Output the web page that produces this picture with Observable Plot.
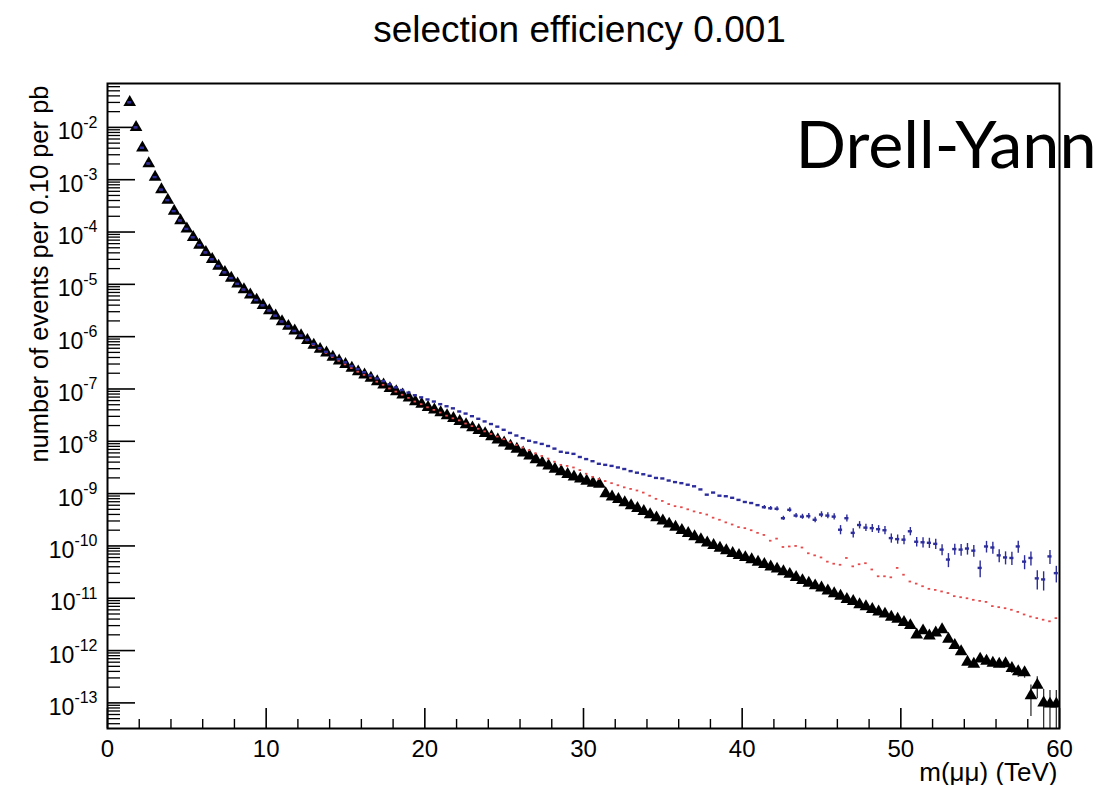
<!DOCTYPE html>
<html>
<head>
<meta charset="utf-8">
<script src="https://cdn.jsdelivr.net/npm/d3@7"></script>
<script src="https://cdn.jsdelivr.net/npm/@observablehq/plot@0.6"></script>
<style>
  html, body { margin: 0; padding: 0; background: #fff; }
  #chart { width: 1116px; height: 785px; }
  #chart svg { overflow: visible; }
</style>
</head>
<body>
<div id="chart"></div>
<script>
// Dimuon invariant-mass histogram, 0.4 TeV bins (bin centres in TeV)
const massBins = [
  1.4, 1.8, 2.2, 2.6, 3.0, 3.4, 3.8, 4.2, 4.6, 5.0,
  5.4, 5.8, 6.2, 6.6, 7.0, 7.4, 7.8, 8.2, 8.6, 9.0,
  9.4, 9.8, 10.2, 10.6, 11.0, 11.4, 11.8, 12.2, 12.6, 13.0,
  13.4, 13.8, 14.2, 14.6, 15.0, 15.4, 15.8, 16.2, 16.6, 17.0,
  17.4, 17.8, 18.2, 18.6, 19.0, 19.4, 19.8, 20.2, 20.6, 21.0,
  21.4, 21.8, 22.2, 22.6, 23.0, 23.4, 23.8, 24.2, 24.6, 25.0,
  25.4, 25.8, 26.2, 26.6, 27.0, 27.4, 27.8, 28.2, 28.6, 29.0,
  29.4, 29.8, 30.2, 30.6, 31.0, 31.4, 31.8, 32.2, 32.6, 33.0,
  33.4, 33.8, 34.2, 34.6, 35.0, 35.4, 35.8, 36.2, 36.6, 37.0,
  37.4, 37.8, 38.2, 38.6, 39.0, 39.4, 39.8, 40.2, 40.6, 41.0,
  41.4, 41.8, 42.2, 42.6, 43.0, 43.4, 43.8, 44.2, 44.6, 45.0,
  45.4, 45.8, 46.2, 46.6, 47.0, 47.4, 47.8, 48.2, 48.6, 49.0,
  49.4, 49.8, 50.2, 50.6, 51.0, 51.4, 51.8, 52.2, 52.6, 53.0,
  53.4, 53.8, 54.2, 54.6, 55.0, 55.4, 55.8, 56.2, 56.6, 57.0,
  57.4, 57.8, 58.2, 58.6, 59.0, 59.4, 59.8
];

// log10(events per bin per pb), generator level (black triangles)
const generatedLog10 = [
  -1.52, -2.00, -2.39, -2.69, -2.95, -3.19, -3.39, -3.60, -3.78, -3.94,
  -4.10, -4.25, -4.39, -4.52, -4.65, -4.77, -4.88, -4.99, -5.10, -5.20,
  -5.30, -5.40, -5.50, -5.60, -5.71, -5.80, -5.89, -5.98, -6.07, -6.16,
  -6.24, -6.31, -6.39, -6.46, -6.53, -6.60, -6.67, -6.73, -6.79, -6.86,
  -6.92, -6.99, -7.05, -7.11, -7.17, -7.24, -7.29, -7.35, -7.40, -7.45,
  -7.51, -7.56, -7.62, -7.68, -7.74, -7.79, -7.85, -7.91, -7.97, -8.03,
  -8.09, -8.15, -8.22, -8.28, -8.35, -8.41, -8.47, -8.53, -8.58, -8.63,
  -8.68, -8.72, -8.76, -8.80, -8.82, -9.00, -9.06, -9.11, -9.17, -9.23,
  -9.28, -9.34, -9.40, -9.46, -9.52, -9.58, -9.64, -9.70, -9.76, -9.82,
  -9.88, -9.94, -9.99, -10.04, -10.09, -10.14, -10.18, -10.22, -10.26, -10.31,
  -10.35, -10.40, -10.44, -10.49, -10.54, -10.60, -10.66, -10.71, -10.76, -10.80,
  -10.86, -10.91, -10.96, -11.02, -11.06, -11.12, -11.16, -11.21, -11.26, -11.30,
  -11.36, -11.40, -11.46, -11.52, -11.70, -11.62, -11.72, -11.66, -11.60, -11.78,
  -11.90, -12.02, -12.22, -12.26, -12.16, -12.20, -12.24, -12.26, -12.25, -12.34,
  -12.40, -12.42, -12.86, -12.66, -13.00, -13.02, -13.02
];

// log10 after momentum smearing (red points)
const smearedLog10 = [
  -1.52, -2.00, -2.39, -2.69, -2.95, -3.19, -3.39, -3.60, -3.78, -3.94,
  -4.10, -4.25, -4.39, -4.52, -4.65, -4.77, -4.88, -4.99, -5.10, -5.20,
  -5.30, -5.40, -5.50, -5.60, -5.71, -5.80, -5.89, -5.98, -6.07, -6.16,
  -6.24, -6.31, -6.39, -6.46, -6.53, -6.60, -6.67, -6.73, -6.79, -6.86,
  -6.92, -6.99, -7.05, -7.11, -7.17, -7.24, -7.29, -7.35, -7.40, -7.45,
  -7.51, -7.56, -7.60, -7.66, -7.71, -7.76, -7.81, -7.86, -7.91, -7.96,
  -8.02, -8.07, -8.12, -8.17, -8.23, -8.28, -8.33, -8.39, -8.45, -8.47,
  -8.50, -8.55, -8.62, -8.68, -8.72, -8.76, -8.80, -8.84, -8.88, -8.91,
  -8.94, -8.98, -9.04, -9.10, -9.14, -9.20, -9.24, -9.26, -9.30, -9.34,
  -9.37, -9.40, -9.46, -9.50, -9.55, -9.59, -9.64, -9.66, -9.70, -9.75,
  -9.79, -9.90, -9.86, -10.02, -10.01, -10.00, -10.03, -10.14, -10.18, -10.22,
  -10.30, -10.34, -10.36, -10.23, -10.39, -10.35, -10.33, -10.45, -10.58, -10.58,
  -10.60, -10.42, -10.55, -10.68, -10.72, -10.77, -10.82, -10.84, -10.87, -10.90,
  -10.96, -10.98, -11.00, -11.03, -11.05, -11.07, -11.15, -11.17, -11.19, -11.22,
  -11.26, -11.31, -11.35, -11.38, -11.41, -11.44, -11.38
];

// log10 after selection (blue points)
const selectedLog10 = [
  -1.52, -2.00, -2.39, -2.69, -2.95, -3.19, -3.39, -3.60, -3.78, -3.94,
  -4.10, -4.25, -4.39, -4.52, -4.65, -4.77, -4.88, -4.99, -5.10, -5.20,
  -5.30, -5.40, -5.50, -5.60, -5.71, -5.80, -5.89, -5.98, -6.06, -6.14,
  -6.22, -6.29, -6.36, -6.43, -6.49, -6.56, -6.62, -6.68, -6.74, -6.80,
  -6.85, -6.91, -6.97, -7.02, -7.07, -7.12, -7.16, -7.20, -7.24, -7.29,
  -7.33, -7.37, -7.43, -7.47, -7.52, -7.57, -7.62, -7.67, -7.72, -7.78,
  -7.84, -7.89, -7.94, -7.99, -8.02, -8.05, -8.09, -8.14, -8.20, -8.22,
  -8.24, -8.30, -8.34, -8.38, -8.43, -8.45, -8.47, -8.50, -8.53, -8.57,
  -8.60, -8.63, -8.66, -8.70, -8.71, -8.75, -8.78, -8.80, -8.83, -8.86,
  -8.92, -9.02, -8.98, -9.04, -9.05, -9.08, -9.12, -9.16, -9.18, -9.22,
  -9.26, -9.28, -9.29, -9.47, -9.31, -9.42, -9.44, -9.43, -9.50, -9.40,
  -9.42, -9.44, -9.69, -9.47, -9.75, -9.60, -9.65, -9.66, -9.68, -9.70,
  -9.85, -9.87, -9.88, -9.72, -9.92, -9.93, -9.94, -9.96, -10.07, -10.26,
  -10.06, -10.07, -10.05, -10.09, -10.42, -10.01, -10.03, -10.18, -10.22, -10.23,
  -10.01, -10.30, -10.23, -10.62, -10.64, -10.20, -10.52
];

// relative statistical error of the selected sample (0 = hidden by the marker)
const selectedRelErr = [
  0, 0, 0, 0, 0, 0, 0, 0, 0, 0,
  0, 0, 0, 0, 0, 0, 0, 0, 0, 0,
  0, 0, 0, 0, 0, 0, 0, 0, 0, 0,
  0, 0, 0, 0, 0, 0, 0, 0, 0, 0,
  0, 0, 0, 0, 0, 0, 0, 0, 0, 0,
  0, 0, 0, 0, 0, 0, 0, 0, 0, 0,
  0, 0, 0, 0, 0, 0, 0, 0, 0, 0,
  0, 0, 0, 0, 0, 0, 0, 0, 0, 0,
  0, 0, 0, 0, 0, 0, 0, 0, 0, 0,
  0, 0, 0, 0, 0, 0, 0, 0, 0, 0,
  0.08, 0.08, 0.09, 0.09, 0.10, 0.10, 0.11, 0.12, 0.12, 0.13,
  0.13, 0.14, 0.20, 0.15, 0.20, 0.16, 0.16, 0.17, 0.17, 0.18,
  0.20, 0.20, 0.20, 0.18, 0.21, 0.22, 0.22, 0.22, 0.24, 0.30,
  0.24, 0.25, 0.25, 0.25, 0.35, 0.25, 0.26, 0.28, 0.28, 0.28,
  0.26, 0.30, 0.30, 0.40, 0.40, 0.30, 0.35
];

// generator-level bins with visible error bars, and their relative errors
const generatedErrBins = [57.0, 57.4, 57.8, 58.2, 58.6, 59.0, 59.4, 59.8];
const generatedRelErr = [0.20, 0.22, 0.22, 0.60, 0.45, 0.80, 0.80, 0.80];

// axes
const xMajorTicks = [0, 10, 20, 30, 40, 50, 60];
const xMinorTicks = [2, 4, 6, 8, 12, 14, 16, 18, 22, 24, 26, 28, 32, 34, 36, 38,
                     42, 44, 46, 48, 52, 54, 56, 58];
const yMajorTicks = [1e-13, 1e-12, 1e-11, 1e-10, 1e-9, 1e-8, 1e-7, 1e-6, 1e-5, 1e-4, 1e-3, 1e-2];
const yDomain = [3.24e-14, 6.9e-2];

const titleText = "selection efficiency 0.001";
const xTitle = "m(\u03bc\u03bc) (TeV)";
const yTitle = "number of events per 0.10 per pb";
const sampleLabel = "Drell-Yann";

// ---------------------------------------------------------------------------
const W = 1116, H = 785;
const mL = 107, mR = 57, mT = 83, mB = 57;
const frameW = W - mL - mR;
const frameH = H - mT - mB;

const rows = massBins.map((m, i) => ({
  m,
  generated: 10 ** generatedLog10[i],
  smeared: 10 ** smearedLog10[i],
  selected: 10 ** selectedLog10[i],
  selErr: selectedRelErr[i]
}));
const selErrRows = rows.filter(d => d.selErr > 0);
const genErrRows = generatedErrBins.map((m, j) => {
  const r = rows[massBins.indexOf(m)];
  return {m, lo: Math.max(r.generated * (1 - generatedRelErr[j]), yDomain[0] * 0.5),
          hi: r.generated * (1 + generatedRelErr[j])};
});

// minor log ticks 2..9 in every decade inside the range
const yMinorTicks = [];
for (let e = -14; e <= -2; e++) {
  for (let k = 2; k <= 9; k++) {
    const v = k * 10 ** e;
    if (v > yDomain[0] && v < yDomain[1]) yMinorTicks.push(v);
  }
}

const sans = "'Liberation Sans', Arial, Helvetica, sans-serif";

const chart = Plot.plot({
  width: W, height: H,
  marginLeft: mL, marginRight: mR, marginTop: mT, marginBottom: mB,
  style: {background: "white", fontFamily: sans, color: "black", overflow: "visible"},
  x: {domain: [0, 60], axis: null},
  y: {type: "log", domain: yDomain, axis: null},
  marks: [
    // axis ticks (inside the frame, ROOT style)
    Plot.tickY(yMinorTicks, {y: d => d, insetRight: frameW - 13, stroke: "black", strokeWidth: 1.3}),
    Plot.tickY(yMajorTicks, {y: d => d, insetRight: frameW - 28, stroke: "black", strokeWidth: 1.6}),
    Plot.tickX(xMinorTicks, {x: d => d, insetTop: frameH - 9, stroke: "black", strokeWidth: 1.4}),
    Plot.tickX(xMajorTicks, {x: d => d, insetTop: frameH - 20, stroke: "black", strokeWidth: 1.6}),

    // generator level: triangles with error bars
    Plot.ruleX(genErrRows, {x: "m", y1: "lo", y2: "hi", stroke: "#333", strokeWidth: 1.3, clip: true}),
    Plot.dot(rows, {x: "m", y: "generated", symbol: "triangle", r: 4.7, fill: "black", stroke: "none", clip: true}),

    // smeared: small red points
    Plot.ruleY(rows, {y: "smeared", x1: d => d.m - 0.08, x2: d => d.m + 0.08,
                      stroke: "#e64a4a", strokeWidth: 1.8, clip: true}),

    // selected: blue dashes with error bars
    Plot.ruleX(selErrRows, {x: "m", y1: d => d.selected * (1 - d.selErr), y2: d => d.selected * (1 + d.selErr),
                            stroke: "#2c2c9c", strokeWidth: 1.4, clip: true}),
    Plot.ruleY(rows, {y: "selected", x1: d => d.m - 0.13, x2: d => d.m + 0.13,
                      stroke: "#2c2c9c", strokeWidth: 2.4, clip: true}),

    // tick labels
    Plot.text(xMajorTicks, {x: d => d, text: d => String(d), frameAnchor: "bottom", lineAnchor: "middle",
                            dy: 20.6, fontSize: 24, fill: "black"}),
    Plot.text(yMajorTicks, {y: d => d, text: d => String(Math.round(Math.log10(d))),
                            frameAnchor: "left", lineAnchor: "middle", textAnchor: "end", dx: -10, dy: 4.6,
                            fontSize: 23, fill: "black"}),

    // titles
    Plot.text([titleText], {frameAnchor: "top", lineAnchor: "middle", dx: -4, dy: -53,
                            fontSize: 37, fill: "black"}),
    Plot.text([xTitle], {frameAnchor: "bottom-right", lineAnchor: "middle", textAnchor: "end",
                         dx: -2, dy: 44, fontSize: 26, fill: "black"}),
    Plot.text([yTitle], {frameAnchor: "top-left", lineAnchor: "middle", textAnchor: "end", rotate: -90,
                         dx: -68, dy: 2, fontSize: 25.5, fill: "black"}),
    Plot.text([sampleLabel], {frameAnchor: "top-left", lineAnchor: "middle", textAnchor: "start",
                              dx: 688, dy: 63, fontSize: 66.5,
                              fontFamily: "Lato, 'Open Sans', sans-serif", fill: "black"}),

    Plot.frame({stroke: "black", strokeWidth: 2})
  ]
});

// y tick labels as 10 with a raised exponent
d3.select(chart).selectAll("text")
  .filter(function () { return /^-\d+$/.test(this.textContent); })
  .each(function () {
    const exp = this.textContent;
    const t = d3.select(this);
    t.text("10");
    t.append("tspan").attr("dy", -11.5).attr("font-size", 16).text(exp);
  });

document.getElementById("chart").appendChild(chart);
</script>
</body>
</html>
